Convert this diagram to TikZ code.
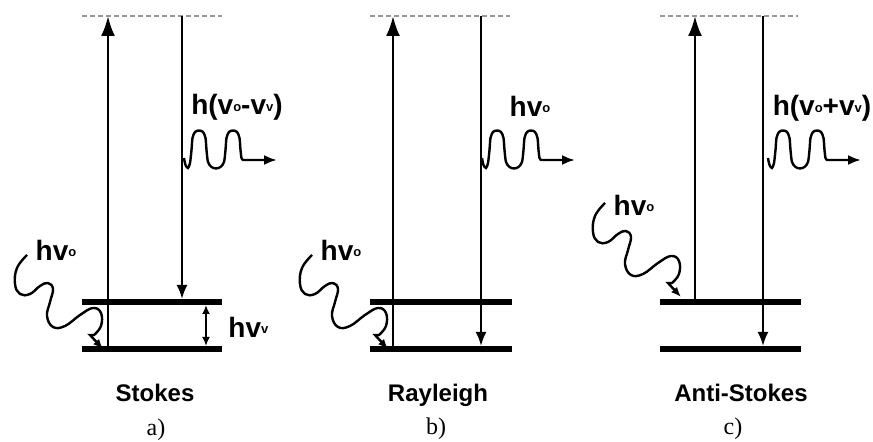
\documentclass[tikz,border=0pt]{standalone}
\usepackage{fontspec}
\setmainfont{Liberation Serif}
\setsansfont{Liberation Sans}
\usetikzlibrary{arrows.meta}
\newcommand\ssub[1]{\raisebox{1.6pt}{\fontsize{6.5}{6.5}\selectfont #1}}

\begin{document}
\begin{tikzpicture}[
        x=0.5pt, y=-0.5pt,
        energy/.style={line width=3pt},
        virtlvl/.style={draw=gray!80, line width=0.7pt, dash pattern=on 2.5pt off 1.5pt},
        pump/.style={line width=1.3pt, -{Latex[length=10pt, width=7pt]}},
        fall/.style={line width=1.1pt, -{Latex[length=7pt, width=5.5pt]}},
        gapar/.style={line width=1.1pt, {Latex[length=4.5pt, width=4pt]}-{Latex[length=4.5pt, width=4pt]}},
        emit/.style={line width=1.2pt, -{Latex[length=6.5pt, width=5pt]}},
        photon/.style={line width=1.2pt, -{Latex[length=5pt, width=4pt]}},
        lbl/.style={font=\sffamily\bfseries\fontsize{14}{14}\selectfont, inner sep=0pt},
        title/.style={font=\sffamily\bfseries\fontsize{12}{12}\selectfont, inner sep=0pt, anchor=base},
        tag/.style={font=\fontsize{12}{12}\selectfont, inner sep=0pt, anchor=base},
        inwave/.pic={
            \draw[photon] plot[smooth, tension=0.7] coordinates {(0,0) (-10,13) (-12,29) (-7,39) (3,39) (13,31)
                (21,28) (26,34) (23,47) (20,61) (26,72) (38,71) (53,60) (66,53) (74,58) (74,71) (67,80)}
                -- (63,80) -- (76,94);
        },
        outwave/.pic={
            \draw[emit] plot[smooth, tension=0.5] coordinates {(0,0) (1.5,7) (4,10) (6,5) (7.5,-8) (8.5,-20)
                (11,-26) (15,-27.5) (19,-26) (21.5,-20) (22.5,-8) (24,4) (27.5,9) (32,10.5) (36.5,9) (40,4)
                (41.5,-8) (42.5,-20) (45,-26) (49,-27.5) (53,-26) (55.5,-20) (56.5,-8) (57.5,0) (59,2)}
                -- (93,2);
        },
    ]
    \useasboundingbox (0,0) rectangle (873,442);

    % a) Stokes
    \coordinate (aG) at (108,349);
    \coordinate (aV) at (108,16);
    \coordinate (aD) at (182,16);
    \coordinate (aE) at (182,299);
    \coordinate (aH1) at (206,305);
    \coordinate (aH0) at (206,346);
    \draw[virtlvl] (82,16) -- (222,16);
    \draw[pump] (aG) -- (aV);
    \draw[fall] (aD) -- (aE);
    \draw[gapar] (aH1) -- (aH0);
    \draw[energy] (82,302) -- (222,302);
    \draw[energy] (82,349) -- (222,349);
    \pic at (27,255) {inwave};
    \pic at (184,158) {outwave};
    \node[lbl] (aIn) at (56,250) {hv\ssub{o}};
    \node[lbl] (aOut) at (237,107) {h(v\ssub{o}-v\ssub{v})};
    \node[lbl, anchor=west] (aGap) at (228,327) {hv\ssub{v}};
    \node[title] (aName) at (155,402) {Stokes};
    \node[tag] (aTag) at (156,436) {a)};

    % b) Rayleigh
    \coordinate (bG) at (393,349);
    \coordinate (bV) at (393,16);
    \coordinate (bD) at (481,16);
    \coordinate (bE) at (481,346);
    \draw[virtlvl] (370,16) -- (510,16);
    \draw[pump] (bG) -- (bV);
    \draw[fall] (bD) -- (bE);
    \draw[energy] (370,302) -- (512,302);
    \draw[energy] (370,349) -- (512,349);
    \pic at (312,255) {inwave};
    \pic at (482,158) {outwave};
    \node[lbl] (bIn) at (341,250) {hv\ssub{o}};
    \node[lbl] (bOut) at (530,106) {hv\ssub{o}};
    \node[title] (bName) at (438,402) {Rayleigh};
    \node[tag] (bTag) at (436,435) {b)};

    % c) Anti-Stokes
    \coordinate (cG) at (695,302);
    \coordinate (cV) at (695,16);
    \coordinate (cD) at (763,16);
    \coordinate (cE) at (763,346);
    \draw[virtlvl] (660,16) -- (798,16);
    \draw[pump] (cG) -- (cV);
    \draw[fall] (cD) -- (cE);
    \draw[energy] (660,302) -- (801,302);
    \draw[energy] (660,349) -- (801,349);
    \pic at (605,203) {inwave};
    \pic at (768,158) {outwave};
    \node[lbl] (cIn) at (634,205) {hv\ssub{o}};
    \node[lbl] (cOut) at (822,108) {h(v\ssub{o}+v\ssub{v})};
    \node[title] (cName) at (741,402) {Anti-Stokes};
    \node[tag] (cTag) at (733,435) {c)};
\end{tikzpicture}
\end{document}
